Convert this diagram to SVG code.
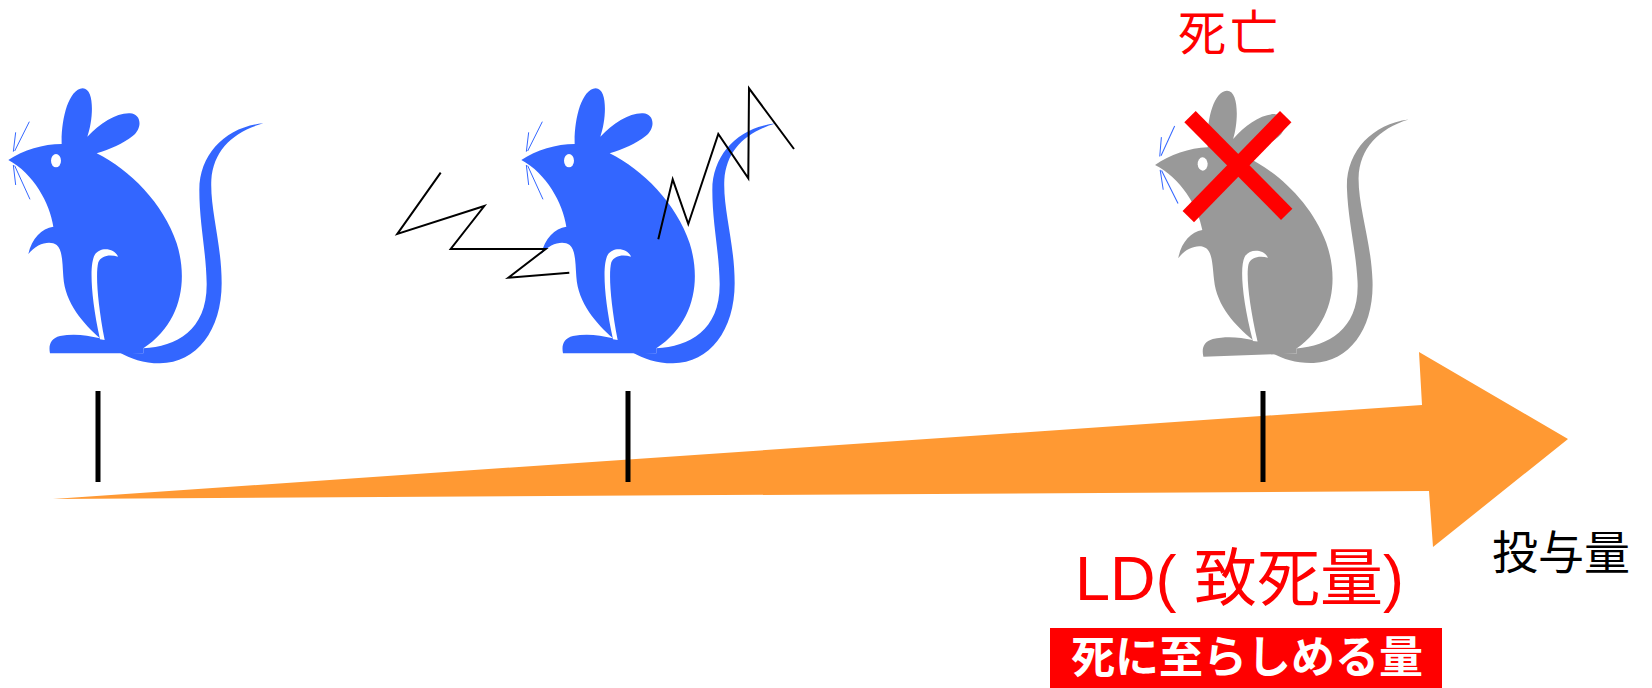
<svg xmlns="http://www.w3.org/2000/svg" xmlns:xlink="http://www.w3.org/1999/xlink" width="1652" height="688" viewBox="0 0 1652 688">
  <style>
    .tick { stroke: #000; stroke-width: 5; }
    .bolt { fill: none; stroke: #000; stroke-width: 2; stroke-linejoin: miter; }
    .whisker { stroke: #3366FF; stroke-width: 3; fill: none; }
    .jp { font-family: "Noto Sans CJK JP", "Noto Sans", sans-serif; }
    .mix { font-family: "Liberation Sans", "Noto Sans CJK JP", sans-serif; }
  </style>
  <defs>
    <!-- mouse silhouette, drawn at 3x; the fill comes from the <use> -->
    <g id="mouse">
      <path d="M 25,270 C 70,240 130,222 185,222 C 183,150 205,58 248,55 C 285,55 280,150 262,200 C 300,160 350,128 390,130 C 425,132 428,175 398,198 C 370,220 330,238 290,250 C 390,300 490,400 530,520 C 565,630 545,760 430,835 L 430,850 L 150,850 C 145,825 152,805 180,798 C 220,790 260,795 300,805 C 250,760 195,700 190,620 C 187,580 188,540 170,525 C 150,510 110,520 85,552 C 95,505 125,475 160,470 C 150,400 100,310 25,270 Z"/>
      <path d="M 430,835 C 530,830 622,780 620,640 C 618,540 598,460 598,360 C 598,250 680,170 790,160 C 700,185 640,240 634,330 C 630,420 665,520 665,640 C 665,780 590,880 480,880 C 430,880 390,865 360,848 L 430,850 Z"/>
      <ellipse cx="168" cy="272" rx="15" ry="20" fill="#fff"/>
      <!-- hind leg outline -->
      <path d="M 354,560 C 345,535 300,528 284,555 C 268,585 272,680 300,808 L 314,810 C 293,700 286,612 295,577 C 303,556 330,552 354,560 Z" fill="#fff"/>
      <g class="whisker">
        <line x1="40" y1="245" x2="47" y2="187"/>
        <line x1="44" y1="243" x2="88" y2="155"/>
        <line x1="40" y1="285" x2="47" y2="345"/>
        <line x1="44" y1="287" x2="90" y2="388"/>
      </g>
    </g>
  </defs>

  <!-- dose axis -->
  <g id="dose-arrow">
    <polygon points="53,499 1422,405 1419,352 1568,439 1433,547 1429,491" fill="#FF9933"/>
  </g>

  <g id="ticks">
    <line class="tick" x1="98" y1="391" x2="98" y2="482"/>
    <line class="tick" x1="628" y1="391" x2="628" y2="482"/>
    <line class="tick" x1="1263" y1="391" x2="1263" y2="482"/>
  </g>

  <g id="mouse-normal">
    <use xlink:href="#mouse" href="#mouse" fill="#3366FF" transform="translate(0,70) scale(0.33333)"/>
  </g>

  <g id="mouse-convulsing">
    <use xlink:href="#mouse" href="#mouse" fill="#3366FF" transform="translate(513,70) scale(0.33333)"/>
    <polyline class="bolt" points="440.7,172.7 397.3,234 484.3,206 450.7,249 545.7,249 508.3,277.7 569.3,272.7"/>
    <polyline class="bolt" points="658.3,239.3 672.7,179.3 688.3,224 718.3,134 748.3,178.3 749,88.3 794,149"/>
  </g>

  <g id="mouse-dead">
    <use xlink:href="#mouse" href="#mouse" fill="#999999" transform="translate(1141.1,5.4) rotate(-2) translate(0,70) scale(0.33333)"/>
    <g stroke="#FF0000" stroke-width="16">
      <line x1="1190" y1="116.7" x2="1286.7" y2="214.3"/>
      <line x1="1285.7" y1="116.7" x2="1188.3" y2="216.7"/>
    </g>
    <text class="mix" x="1178" y="50" font-size="48" letter-spacing="4" fill="#FF0000">死亡</text>
  </g>

  <g id="labels">
    <text class="jp" x="1492" y="569" font-size="46" fill="#000">投与量</text>
    <text class="mix" x="1075" y="600" font-size="63" fill="#FF0000">LD( 致死量)</text>
    <rect x="1050" y="628" width="392" height="60" fill="#FF0000"/>
    <text class="jp" x="1071" y="673" font-size="44" font-weight="bold" fill="#fff">死に至らしめる量</text>
  </g>
</svg>
